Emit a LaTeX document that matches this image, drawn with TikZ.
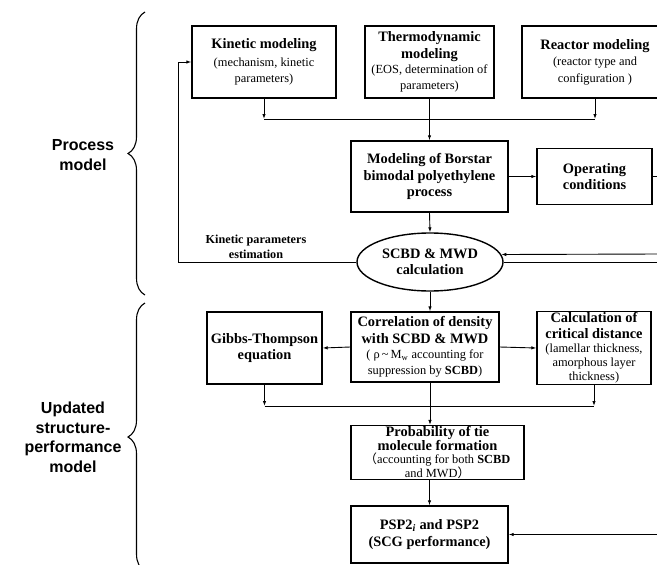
\documentclass[tikz,border=0pt]{standalone}
\usepackage{fontspec}
\setmainfont{Liberation Serif}
\newfontfamily\sidefont{Liberation Sans}
\newfontfamily\cjkfont{Noto Sans CJK SC}
\usetikzlibrary{positioning,shapes.geometric,arrows.meta,decorations.pathreplacing}

\newcommand{\desc}[1]{{\fontsize{12.4}{15}\selectfont\mdseries #1}}

\tikzset{
  box/.style={draw, line width=1.4pt, align=center, inner sep=1pt,
    font=\fontsize{14.4}{16.5}\selectfont\bfseries},
  flow/.style={-{Latex[length=5pt,width=3.5pt]}, line width=0.9pt},
  link/.style={line width=0.9pt},
  side/.style={align=center, font=\sidefont\fontsize{16}{19.5}\selectfont\bfseries},
  sidebrace/.style={decorate, decoration={brace,amplitude=17pt}, line width=1.1pt}
}

\begin{document}
\begin{tikzpicture}[x=1pt,y=-1pt]
	\useasboundingbox (0,0) rectangle (657,565);
	\clip (0,0) rectangle (657,565);

	% process model
	\node[box, minimum width=144, minimum height=72] (kin) at (264,62)
		{Kinetic modeling\\[1pt] \desc{(mechanism, kinetic}\\ \desc{parameters)}};
	\node[box, minimum width=129, minimum height=72] (thermo) at (429.5,62)
		{Thermodynamic\\ modeling\\[-1pt] \desc{(EOS, determination of}\\[-1pt] \desc{parameters)}};
	\node[box, minimum width=146, minimum height=72] (reac) at (595,62)
		{Reactor modeling\\ \desc{(reactor type and}\\ \desc{configuration )}};
	\node[box, minimum width=157, minimum height=71] (model) at (429.5,176.5)
		{Modeling of Borstar\\ bimodal polyethylene\\ process};
	\node[box, minimum width=115, minimum height=56] (oper) at (594.5,176.5)
		{Operating\\ conditions};
	\node[box, ellipse, minimum width=146, minimum height=58, inner sep=0pt] (calcmwd) at (430,262)
		{SCBD \& MWD\\ calculation};
	\node[font=\fontsize{12.2}{15}\selectfont\bfseries, align=center] (kpe) at (256,247)
		{Kinetic parameters\\ estimation};

	% structure-performance model
	\node[box, minimum width=148, minimum height=70] (corr) at (425,347)
		{Correlation of density\\ with SCBD \& MWD\\[-1pt]
		 \desc{( ρ\,\textasciitilde\,M\textsubscript{w} accounting for}\\[-1pt]
		 \desc{suppression by \textbf{SCBD})}};
	\node[box, minimum width=114, minimum height=72] (calc) at (594,348)
		{Calculation of\\[-1pt] critical distance\\[-2pt]
		 \desc{(lamellar thickness,}\\[-3pt] \desc{amorphous layer}\\[-2pt] \desc{thickness)}};
	\node[box, minimum width=115, minimum height=72] (gibbs) at (264.5,348)
		{Gibbs-Thompson\\ equation};
	\node[box, minimum width=173, minimum height=53] (prob) at (437.5,452.5)
		{Probability of tie\\[-3pt] molecule formation\\[-3pt]
		 \desc{{\cjkfont （}accounting for both \textbf{SCBD}}\\[-3pt]
		 \desc{and MWD{\cjkfont ）}}};
	\node[box, minimum width=157, minimum height=57] (psp) at (429.5,534.5)
		{PSP2\textsubscript{\textit{i}} and PSP2\\ (SCG performance)};

	% ends of lines that run off the right side
	\coordinate (jtop) at (429.5,119);
	\coordinate (jbot) at (429.5,406);
	\coordinate (opout) at (660,176.5);
	\coordinate (fbin) at (660,254);
	\coordinate (fbout) at (660,262);
	\coordinate (pspin) at (660,534.5);

	\draw[flow] (kin.south) -- (kin.south |- jtop);
	\draw[flow] (reac.south) -- (reac.south |- jtop);
	\draw[link] (kin.south |- jtop) -- (reac.south |- jtop);
	\draw[flow] (thermo.south) -- (model.north);
	\draw[flow] (model.east) -- (oper.west);
	\draw[link] (oper.east) -- (opout);
	\draw[flow] (model.south) -- (calcmwd.north);
	\draw[flow] (fbin) -- (calcmwd.6.5);
	\draw[link] (fbout) -- (calcmwd.east);
	\draw[flow] (calcmwd.west) -- ++(-178,0) |- (kin.west);

	\draw[flow] (calcmwd.south) -- (calcmwd.south |- corr.north);
	\draw[flow] (corr.east) -- (calc.west);
	\draw[flow] (corr.west) -- (gibbs.east);
	\draw[flow] (gibbs.south) -- (gibbs.south |- jbot);
	\draw[flow] (calc.south) -- (calc.south |- jbot);
	\draw[link] (gibbs.south |- jbot) -- (calc.south |- jbot);
	\draw[flow] (calcmwd.south |- corr.south) -- (calcmwd.south |- prob.north);
	\draw[flow] (psp.north |- prob.south) -- (psp.north);
	\draw[flow] (pspin) -- (psp.east);

	% braces and group names
	\draw[sidebrace] (145,295) -- (145,12);
	\draw[sidebrace] (145,571) -- (145,303);
	\node[side] (procm) at (83,155) {Process\\ model};
	\node[side] (updm) at (73,437.5) {Updated\\ structure-\\ performance\\ model};
\end{tikzpicture}
\end{document}
